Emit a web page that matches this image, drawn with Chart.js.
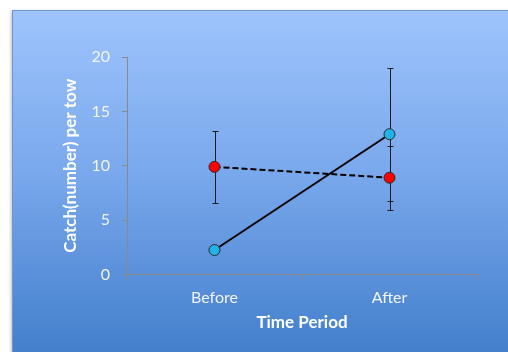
<!DOCTYPE html>
<html>
<head>
<meta charset="utf-8">
<script src="https://cdn.jsdelivr.net/npm/chart.js@4"></script>
<style>
  html, body { margin: 0; padding: 0; background: #ffffff; overflow: hidden; }
  #wrap { position: relative; width: 508px; height: 352px; overflow: hidden; }
  #panel { position: absolute; left: 12px; top: 10px; width: 520px; height: 360px;
    background: linear-gradient(to bottom, #9ec4fc 0%, #79a8ec 45%, #3d7bc9 100%);
    border: 1px solid #6f95d2; box-shadow: -1px 1px 3px rgba(0,0,0,0.25); }
  canvas { position: absolute; left: 0; top: 0; }
</style>
</head>
<body>
<div id="wrap">
  <div id="panel"></div>
  <canvas id="c" width="508" height="352"></canvas>
</div>
<script>
const categories = ['Before', 'After'];
const redValues = [9.9, 8.9];
const redErrors = [3.3, 2.95];
const blueValues = [2.25, 12.9];
const blueErrors = [0.3, 6.1];
const yTicks = [0, 5, 10, 15, 20];

const errorBarPlugin = {
  id: 'errorBars',
  beforeDatasetsDraw(chart) {
    const ctx = chart.ctx;
    const x = chart.scales.x, y = chart.scales.y;
    ctx.save();
    ctx.strokeStyle = '#1a1a1a';
    ctx.lineWidth = 1;
    chart.data.datasets.forEach(ds => {
      ds.data.forEach((v, i) => {
        const e = ds.errors[i];
        const px = Math.round(x.getPixelForValue(i)) + 0.5;
        const top = Math.round(y.getPixelForValue(v + e)) + 0.5;
        const bot = Math.round(y.getPixelForValue(v - e)) + 0.5;
        ctx.beginPath();
        ctx.moveTo(px, top); ctx.lineTo(px, bot);
        ctx.moveTo(px - 3, top); ctx.lineTo(px + 3, top);
        ctx.moveTo(px - 3, bot); ctx.lineTo(px + 3, bot);
        ctx.stroke();
      });
    });
    ctx.restore();
  }
};

new Chart(document.getElementById('c'), {
  type: 'line',
  data: {
    labels: categories,
    datasets: [
      {
        data: redValues, errors: redErrors,
        borderColor: '#000000', borderWidth: 2, borderDash: [6, 3],
        pointBackgroundColor: '#ff0000', pointBorderColor: '#2a2a2a', pointBorderWidth: 1,
        pointRadius: 5.5, tension: 0
      },
      {
        data: blueValues, errors: blueErrors,
        borderColor: '#000000', borderWidth: 2,
        pointBackgroundColor: '#22b2ea', pointBorderColor: '#2a2a2a', pointBorderWidth: 1,
        pointRadius: 5.5, tension: 0
      }
    ]
  },
  options: {
    responsive: false,
    animation: false,
    events: [],
    layout: { padding: { left: 60, right: 31, top: 57, bottom: 0 } },
    plugins: { legend: { display: false }, title: { display: false }, tooltip: { enabled: false } },
    scales: {
      x: {
        offset: true,
        grid: { offset: true, drawOnChartArea: false, drawTicks: true, tickLength: 5, color: '#8a8a8a' },
        border: { color: '#8a8a8a', width: 1 },
        ticks: { color: '#f2f5fa', font: { family: 'Lato', size: 16 }, padding: 9 },
        title: { display: true, text: 'Time Period', color: '#ffffff',
          font: { family: 'Lato', size: 17, weight: 'bold' }, padding: { top: 0, bottom: 19 } },
        afterFit: s => { s.height = 77.5; }
      },
      y: {
        min: 0, max: 20,
        afterBuildTicks: s => { s.ticks = yTicks.map(v => ({ value: v })); },
        grid: { drawOnChartArea: false, drawTicks: true, tickLength: 5, color: '#8a8a8a' },
        border: { color: '#8a8a8a', width: 1 },
        ticks: { color: '#f2f5fa', font: { family: 'Lato', size: 16 }, padding: 12 },
        title: { display: true, text: 'Catch(number) per tow', color: '#ffffff',
          font: { family: 'Lato', size: 17, weight: 'bold' }, padding: { top: 0, bottom: 0 } },
        afterFit: s => { s.width = 67; }
      }
    }
  },
  plugins: [errorBarPlugin]
});
</script>
</body>
</html>
